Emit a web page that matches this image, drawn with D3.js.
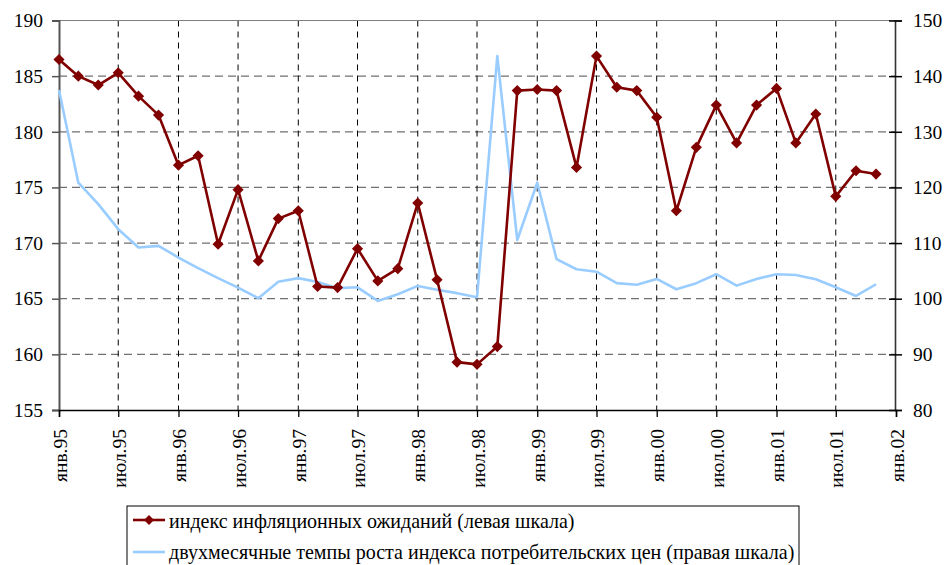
<!DOCTYPE html>
<html><head><meta charset="utf-8">
<script src="https://cdn.jsdelivr.net/npm/d3@7"></script>
<style>
body{margin:0;background:#fff;}
svg text{font-family:"Liberation Serif","DejaVu Serif","Noto Serif",serif !important;}
</style></head>
<body><svg id="c" width="947" height="565"></svg>
<script>
const periods = ["1995-01","1995-03","1995-05","1995-07","1995-09","1995-11",
"1996-01","1996-03","1996-05","1996-07","1996-09","1996-11",
"1997-01","1997-03","1997-05","1997-07","1997-09","1997-11",
"1998-01","1998-03","1998-05","1998-07","1998-09","1998-11",
"1999-01","1999-03","1999-05","1999-07","1999-09","1999-11",
"2000-01","2000-03","2000-05","2000-07","2000-09","2000-11",
"2001-01","2001-03","2001-05","2001-07","2001-09","2001-11"];
const expectations = [186.5,185.0,184.2,185.3,183.2,181.5,177.0,177.85,169.9,174.8,168.4,172.2,
172.9,166.1,166.0,169.5,166.6,167.7,173.6,166.7,159.3,159.1,160.7,183.7,
183.8,183.7,176.8,186.8,184.0,183.7,181.3,172.9,178.6,182.4,179.0,182.4,
183.9,179.0,181.6,174.2,176.5,176.2];
const cpiGrowth = [137.5,120.85,117.0,112.5,109.2,109.5,107.4,105.5,103.7,102.0,100.1,103.05,
103.7,103.0,101.9,102.05,99.6,100.8,102.3,101.6,101.0,100.25,143.6,110.55,
120.85,107.1,105.3,104.85,102.8,102.5,103.55,101.7,102.8,104.4,102.35,103.55,
104.4,104.25,103.5,102.05,100.5,102.6];
const tickLabels = ["янв.95","июл.95","янв.96","июл.96","янв.97","июл.97","янв.98","июл.98",
"янв.99","июл.99","янв.00","июл.00","янв.01","июл.01","янв.02"];
const leftTicks = [155,160,165,170,175,180,185,190];
const rightTicks = [80,90,100,110,120,130,140,150];
const legendLabels = ["индекс инфляционных ожиданий (левая шкала)",
"двухмесячные темпы роста индекса потребительских цен (правая шкала)"];

const FONT = '"Liberation Serif","DejaVu Serif","Noto Serif",serif';
const svg = d3.select("#c");
const X0 = 59, X1 = 896, YT = 20.5, YB = 410;
const parse = d3.timeParse("%Y-%m");
const x = d3.scaleTime().domain([parse("1995-01"), parse("2002-01")]).range([X0, X1]);
const yL = d3.scaleLinear().domain([155,190]).range([YB, YT]);
const yR = d3.scaleLinear().domain([80,150]).range([YB, YT]);
const tickDates = d3.timeMonth.every(6).range(parse("1995-01"), parse("2002-02"));

// horizontal grid
svg.append("g").selectAll("line").data(leftTicks.filter(v=>v>155 && v<190)).join("line")
  .attr("x1", X0).attr("x2", X1).attr("y1", d=>yL(d)).attr("y2", d=>yL(d))
  .attr("stroke", "#707070").attr("stroke-width", 1.3).attr("stroke-dasharray", "8,5");
// vertical grid
svg.append("g").selectAll("line").data(tickDates.slice(1, -1)).join("line")
  .attr("x1", d=>x(d)).attr("x2", d=>x(d)).attr("y1", YT).attr("y2", YB)
  .attr("stroke", "#000").attr("stroke-width", 1).attr("stroke-dasharray", "6,5");
// top border
svg.append("line").attr("x1", X0).attr("x2", X1).attr("y1", YT).attr("y2", YT)
  .attr("stroke", "#808080").attr("stroke-width", 1.2);

// left axis
const gL = svg.append("g").attr("transform", `translate(${X0},0)`)
  .call(d3.axisLeft(yL).tickValues(leftTicks).tickSize(7).tickPadding(9).tickFormat(d3.format("d")));
gL.attr("font-family", FONT);
gL.select(".domain").attr("stroke", "#555").attr("stroke-width", 2);
gL.selectAll(".tick line").attr("stroke", "#555").attr("stroke-width", 1.5);
gL.selectAll("text").attr("font-size", 19.5).attr("fill", "#000");

// right axis
const gR = svg.append("g").attr("transform", `translate(${X1-1},0)`)
  .call(d3.axisRight(yR).tickValues(rightTicks).tickSize(7).tickPadding(11).tickFormat(d3.format("d")));
gR.attr("font-family", FONT);
gR.select(".domain").attr("stroke", "#333").attr("stroke-width", 1.6);
gR.selectAll(".tick line").attr("x1", -6).attr("stroke", "#000").attr("stroke-width", 1.5);
gR.selectAll("text").attr("font-size", 19.5).attr("fill", "#000");

// bottom axis
const gB = svg.append("g").attr("transform", `translate(0,${YB})`)
  .call(d3.axisBottom(x).tickValues(tickDates).tickSize(7).tickFormat((d,i)=>tickLabels[i]));
gB.attr("font-family", FONT);
gB.select(".domain").attr("stroke", "#000").attr("stroke-width", 1.5);
gB.selectAll(".tick line").attr("stroke", "#000").attr("stroke-width", 1.3);
gB.selectAll("text").attr("font-size", 19.5).attr("fill", "#000")
  .attr("transform", "rotate(-90)").attr("text-anchor", "end")
  .attr("x", -19).attr("y", 0).attr("dy", "0.36em");

// CPI line (right)
svg.append("path").datum(cpiGrowth)
  .attr("fill", "none").attr("stroke", "#99ccff").attr("stroke-width", 2.6).attr("stroke-linejoin", "round")
  .attr("d", d3.line().x((d,i)=>x(parse(periods[i]))).y(d=>yR(d)));

// Expectations line (left)
svg.append("path").datum(expectations)
  .attr("fill", "none").attr("stroke", "#800000").attr("stroke-width", 2.6).attr("stroke-linejoin", "round")
  .attr("d", d3.line().x((d,i)=>x(parse(periods[i]))).y(d=>yL(d)));
svg.append("g").selectAll("path").data(expectations).join("path")
  .attr("transform", (d,i)=>`translate(${x(parse(periods[i]))},${yL(d)}) rotate(45)`)
  .attr("d", d3.symbol().type(d3.symbolSquare).size(62))
  .attr("fill", "#800000");

// legend
const lg = svg.append("g").attr("font-family", FONT);
lg.append("rect").attr("x", 127).attr("y", 506).attr("width", 672).attr("height", 70)
  .attr("fill", "#fff").attr("stroke", "#000").attr("stroke-width", 1);
lg.append("line").attr("x1", 133).attr("x2", 165).attr("y1", 520).attr("y2", 520)
  .attr("stroke", "#800000").attr("stroke-width", 2.6);
lg.append("path").attr("transform", "translate(149,520) rotate(45)")
  .attr("d", d3.symbol().type(d3.symbolSquare).size(50)).attr("fill", "#800000");
lg.append("line").attr("x1", 133).attr("x2", 165).attr("y1", 552).attr("y2", 552)
  .attr("stroke", "#99ccff").attr("stroke-width", 2.6);
const lt = lg.selectAll("text.lt").data(legendLabels).join("text").attr("class", "lt")
  .attr("x", 169).attr("y", (d,i)=>528 + i*31)
  .attr("font-size", 19).attr("fill", "#000").text(d=>d);
// fit the long label to the reference width
const w2 = lt.nodes()[1].getComputedTextLength();
if (w2 > 0) lt.attr("font-size", 19 * 626 / w2);
</script></body></html>
